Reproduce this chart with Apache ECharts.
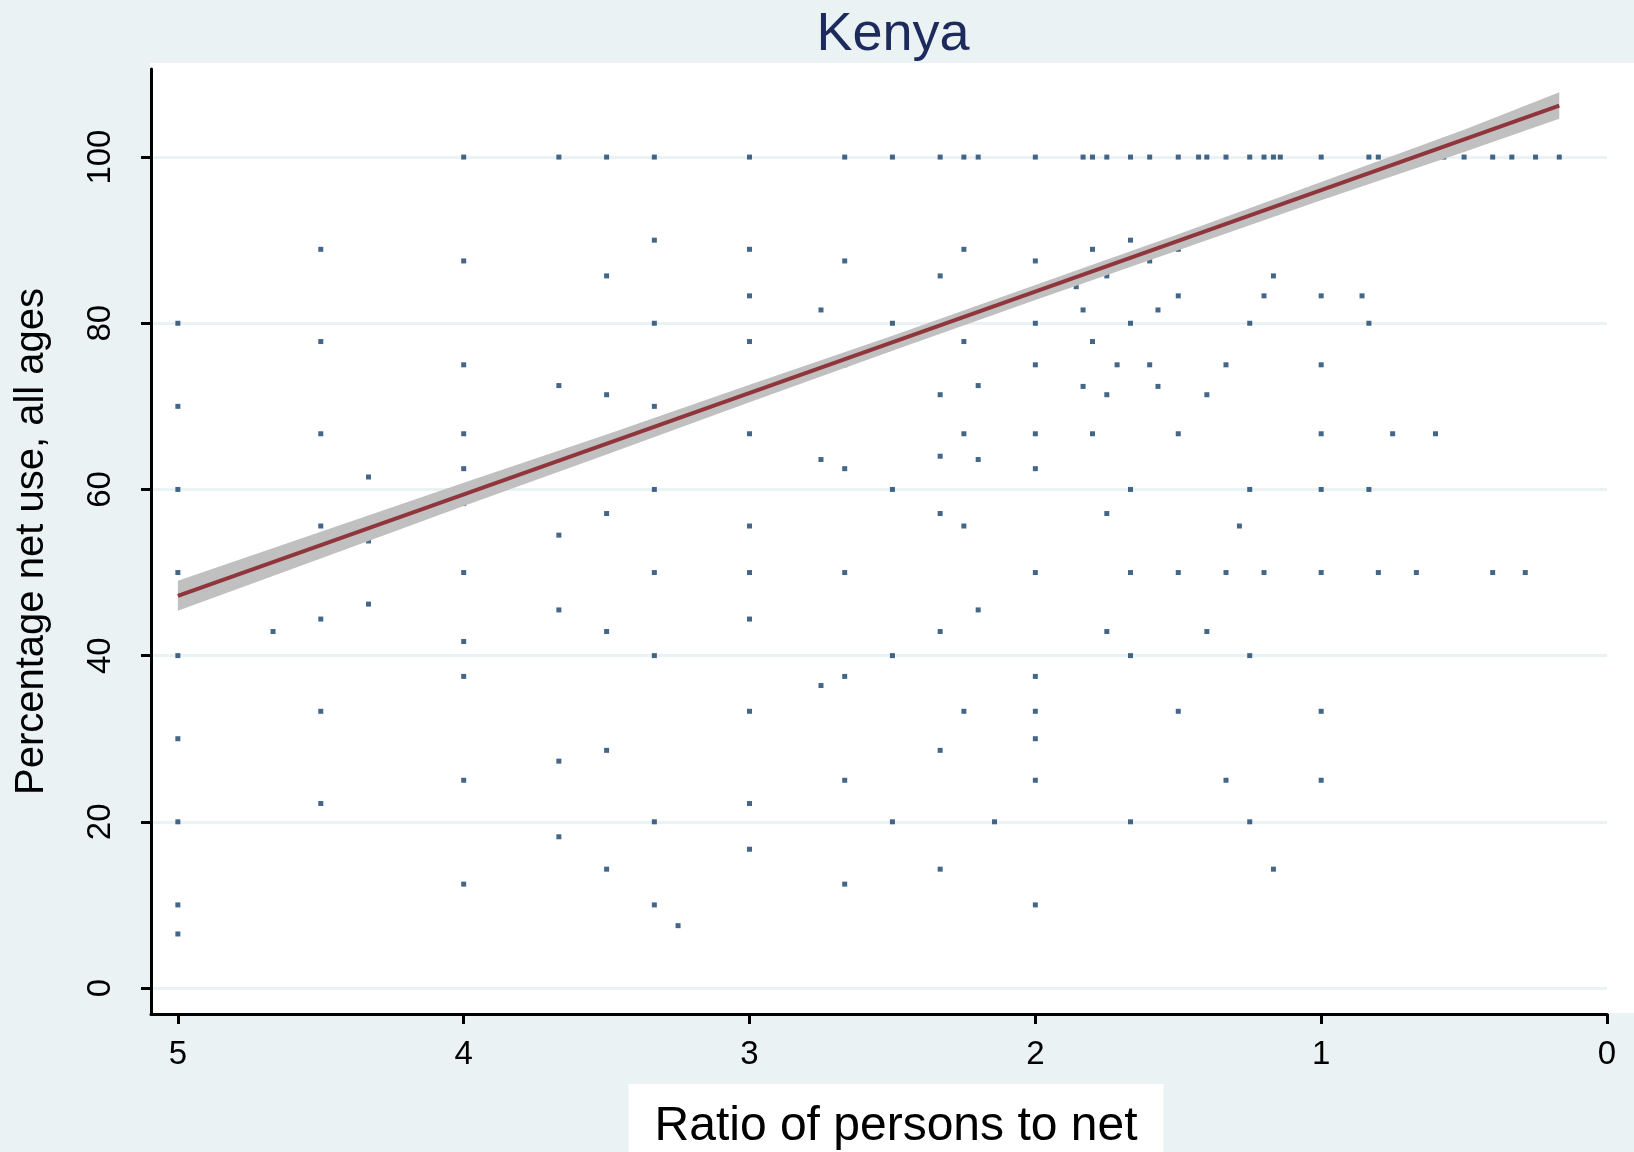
<!DOCTYPE html>
<html>
<head>
<meta charset="utf-8">
<title>Kenya</title>
<script src="https://cdn.jsdelivr.net/npm/echarts@6/dist/echarts.min.js"></script>
<style>
  html, body { margin: 0; padding: 0; background: #eaf2f3; }
  #chart { width: 1634px; height: 1152px; }
</style>
</head>
<body>
<div id="chart"></div>
<script>
// persons per net (x) and % net use (y), one entry per dot
const ratio = [
  5, 5, 5, 5, 5, 5, 5, 5, 5,
  4.667,
  4.5, 4.5, 4.5, 4.5, 4.5, 4.5, 4.5,
  4.333, 4.333, 4.333,
  4, 4, 4, 4, 4, 4, 4, 4, 4, 4, 4,
  3.667, 3.667, 3.667, 3.667, 3.667, 3.667,
  3.5, 3.5, 3.5, 3.5, 3.5, 3.5, 3.5,
  3.333, 3.333, 3.333, 3.333, 3.333, 3.333, 3.333, 3.333, 3.333,
  3.25,
  3, 3, 3, 3, 3, 3, 3, 3, 3, 3, 3,
  2.75, 2.75, 2.75,
  2.667, 2.667, 2.667, 2.667, 2.667, 2.667, 2.667, 2.667,
  2.5, 2.5, 2.5, 2.5, 2.5,
  2.333, 2.333, 2.333, 2.333, 2.333, 2.333, 2.333, 2.333,
  2.25, 2.25, 2.25, 2.25, 2.25, 2.25,
  2.2, 2.2, 2.2, 2.2,
  2.143,
  2, 2, 2, 2, 2, 2, 2, 2, 2, 2, 2, 2, 2,
  1.857,
  1.833, 1.833, 1.833,
  1.8, 1.8, 1.8, 1.8,
  1.75, 1.75, 1.75, 1.75, 1.75,
  1.714,
  1.667, 1.667, 1.667, 1.667, 1.667, 1.667, 1.667,
  1.6, 1.6, 1.6,
  1.571, 1.571,
  1.5, 1.5, 1.5, 1.5, 1.5, 1.5,
  1.429,
  1.4, 1.4, 1.4,
  1.333, 1.333, 1.333, 1.333,
  1.286,
  1.25, 1.25, 1.25, 1.25, 1.25,
  1.2, 1.2, 1.2,
  1.167, 1.167, 1.167,
  1.143,
  1, 1, 1, 1, 1, 1, 1, 1,
  0.857,
  0.833, 0.833, 0.833,
  0.8, 0.8,
  0.75, 0.667, 0.6, 0.6, 0.571, 0.5, 0.4, 0.4, 0.333, 0.286, 0.25, 0.167
];
const netUse = [
  80, 70, 60, 50, 40, 30, 20, 10, 6.5,
  42.9,
  88.9, 77.8, 66.7, 55.6, 44.4, 33.3, 22.2,
  61.5, 53.8, 46.2,
  100, 87.5, 75, 66.7, 62.5, 58.3, 50, 41.7, 37.5, 25, 12.5,
  100, 72.5, 54.5, 45.5, 27.3, 18.2,
  100, 85.7, 71.4, 57.1, 42.9, 28.6, 14.3,
  100, 90, 80, 70, 60, 50, 40, 20, 10,
  7.5,
  100, 88.9, 83.3, 77.8, 66.7, 55.6, 50, 44.4, 33.3, 22.2, 16.7,
  81.6, 63.6, 36.4,
  100, 87.5, 75, 62.5, 50, 37.5, 25, 12.5,
  100, 80, 60, 40, 20,
  100, 85.7, 71.4, 64, 57.1, 42.9, 28.6, 14.3,
  100, 88.9, 77.8, 66.7, 55.6, 33.3,
  100, 72.5, 63.6, 45.5,
  20,
  100, 87.5, 83.3, 80, 75, 66.7, 62.5, 50, 37.5, 33.3, 30, 25, 10,
  84.4,
  100, 81.6, 72.4,
  100, 88.9, 77.8, 66.7,
  100, 85.7, 71.4, 57.1, 42.9,
  75,
  100, 90, 80, 60, 50, 40, 20,
  100, 87.5, 75,
  81.6, 72.4,
  100, 88.9, 83.3, 66.7, 50, 33.3,
  100,
  100, 71.4, 42.9,
  100, 75, 50, 25,
  55.6,
  100, 80, 60, 40, 20,
  100, 83.3, 50,
  100, 85.7, 14.3,
  100,
  100, 83.3, 75, 66.7, 60, 50, 33.3, 25,
  83.3,
  100, 80, 60,
  100, 50,
  66.7, 50, 100, 66.7, 100, 100, 100, 50, 100, 50, 100, 100
];

// fitted line and its confidence band
const fitRatio = [5, 0.167];
const fitUse = [47.2, 106.2];
const bandRatio = [5, 4.5, 4, 3.5, 3, 2.5, 2, 1.5, 1, 0.5, 0.167];
const bandLow = [45.4, 51.7, 58.0, 64.2, 70.5, 76.7, 82.8, 88.8, 94.8, 100.6, 104.6];
const bandHigh = [49.0, 54.9, 60.8, 66.6, 72.6, 78.5, 84.6, 90.7, 97.0, 103.3, 107.8];

const yTicks = [0, 20, 40, 60, 80, 100];
const xTicks = [0, 1, 2, 3, 4, 5];

var font = 'Liberation Sans, Arial, Helvetica, sans-serif';
var myChart = echarts.init(document.getElementById('chart'), null, { renderer: 'canvas' });

var dots = ratio.map(function (r, i) { return [r, netUse[i]]; });
var band = bandRatio.map(function (r, i) { return [r, bandLow[i], bandHigh[i]]; });
var fitLine = fitRatio.map(function (r, i) { return [r, fitUse[i]]; });

// the band is one polygon: upper edge forward, lower edge back
function renderBand(params, api) {
  if (params.dataIndex !== 0) return;
  var pts = [];
  for (var i = 0; i < band.length; i++) pts.push(api.coord([band[i][0], band[i][2]]));
  for (var j = band.length - 1; j >= 0; j--) pts.push(api.coord([band[j][0], band[j][1]]));
  return {
    type: 'polygon',
    shape: { points: pts },
    style: { fill: '#c0c0c0' },
    silent: true
  };
}

var option = {
  animation: false,
  backgroundColor: '#eaf2f3',
  textStyle: { fontFamily: font },
  title: [
    {
      text: 'Kenya',
      left: 888,
      textAlign: 'center',
      top: 3,
      textStyle: { fontFamily: font, fontSize: 54, fontWeight: 'normal', color: '#1c2b5c' }
    },
    {
      // x axis title sits in its own white box
      text: 'Ratio of persons to net',
      left: 870,
      textAlign: 'center',
      top: 1084,
      backgroundColor: '#ffffff',
      padding: [19, 26, 16, 26],
      textStyle: { fontFamily: font, fontSize: 48, fontWeight: 'normal', color: '#000' }
    }
  ],
  // white plot region behind the grid, with the grid lines running to its right edge
  graphic: [{
    type: 'rect',
    z: -10,
    silent: true,
    shape: { x: 150, y: 63, width: 1484, height: 950 },
    style: { fill: '#ffffff' }
  }],
  grid: { left: 151, right: 27, top: 69, bottom: 138, outerBoundsMode: 'none', containLabel: false },
  xAxis: {
    type: 'value',
    inverse: true,
    min: 0,
    max: 5.094,
    axisLine: { show: true, onZero: false, lineStyle: { color: '#000', width: 3 } },
    axisTick: { show: true, length: 10, lineStyle: { color: '#000', width: 3 }, customValues: xTicks },
    axisLabel: { fontSize: 33, color: '#000', margin: 24, customValues: xTicks },
    splitLine: { show: false }
  },
  yAxis: {
    type: 'value',
    min: -3.13,
    max: 110.6,
    name: 'Percentage net use, all ages',
    nameLocation: 'middle',
    nameRotate: 90,
    nameGap: 99,
    nameTextStyle: { fontFamily: font, fontSize: 40, color: '#000' },
    axisLine: { show: true, onZero: false, lineStyle: { color: '#000', width: 3 } },
    axisTick: { show: true, length: 10, lineStyle: { color: '#000', width: 3 }, customValues: yTicks },
    axisLabel: { fontSize: 33, color: '#000', rotate: 90, margin: 34, customValues: yTicks },
    splitLine: { show: true, lineStyle: { color: '#eaf2f3', width: 3 } }
  },
  series: [
    {
      type: 'scatter',
      data: dots,
      symbol: 'rect',
      symbolSize: 5,
      itemStyle: { color: '#15406a' },
      z: 2
    },
    {
      type: 'custom',
      data: band,
      encode: { x: 0, y: [1, 2] },
      renderItem: renderBand,
      z: 3
    },
    {
      type: 'line',
      data: fitLine,
      symbol: 'none',
      lineStyle: { color: '#90353b', width: 4 },
      z: 4
    }
  ]
};
option && myChart.setOption(option);
</script>
</body>
</html>
